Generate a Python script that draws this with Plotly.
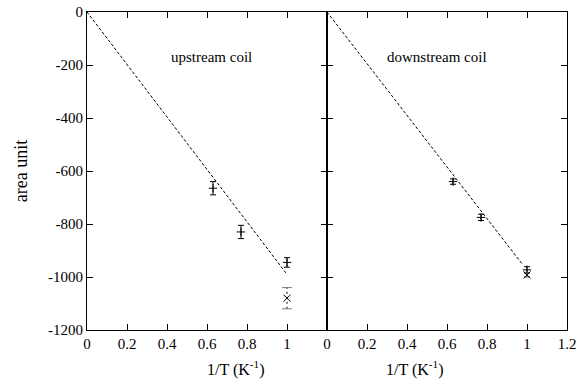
import plotly.graph_objects as go

# Data
up_x = [0.63, 0.77, 1.0]
up_y = [-665, -830, -945]
up_err = [25, 25, 18]
up_cross_x = [1.0]
up_cross_y = [-1080]
up_cross_err = [40]
up_fit_x = [0, 1.0]
up_fit_y = [0, -990]

dn_x = [0.63, 0.77, 1.0]
dn_y = [-640, -775, -973]
dn_err = [10, 12, 12]
dn_cross_x = [1.0]
dn_cross_y = [-992]
dn_cross_err = [8]
dn_fit_x = [0, 0.98]
dn_fit_y = [0, -955]

x_ticks_left = [0, 0.2, 0.4, 0.6, 0.8, 1]
x_ticks_right = [0, 0.2, 0.4, 0.6, 0.8, 1, 1.2]
y_ticks = [0, -200, -400, -600, -800, -1000, -1200]
x_title = "1/T (K<sup>-1</sup>)"

FONT = "Liberation Serif"
fig = go.Figure()

def add_panel(xa, ya, px, py, pe, cx, cy, ce, fx, fy, dotted):
    fig.add_trace(go.Scatter(x=fx, y=fy, mode="lines", xaxis=xa, yaxis=ya,
                             line=dict(color="black", width=1, dash="3px,2px"),
                             showlegend=False, hoverinfo="skip"))
    fig.add_trace(go.Scatter(x=px, y=py, mode="markers", xaxis=xa, yaxis=ya,
                             marker=dict(symbol="cross-thin-open", size=6, color="black",
                                         line=dict(color="black", width=1)),
                             error_y=dict(type="data", array=pe, color="black",
                                          thickness=1, width=3),
                             showlegend=False))
    if dotted:
        for xv, yv, ev in zip(cx, cy, ce):
            fig.add_trace(go.Scatter(x=[xv, xv], y=[yv - ev, yv + ev], mode="lines+markers",
                                     xaxis=xa, yaxis=ya,
                                     line=dict(color="black", width=1, dash="2px,3px"),
                                     marker=dict(symbol="line-ew-open", size=7, color="#777",
                                                 line=dict(color="#777", width=1)),
                                     showlegend=False, hoverinfo="skip"))
        fig.add_trace(go.Scatter(x=cx, y=cy, mode="markers", xaxis=xa, yaxis=ya,
                                 marker=dict(symbol="x-thin-open", size=7, color="black",
                                             line=dict(color="black", width=1)),
                                 showlegend=False))
    else:
        fig.add_trace(go.Scatter(x=cx, y=cy, mode="markers", xaxis=xa, yaxis=ya,
                                 marker=dict(symbol="x-thin-open", size=7, color="black",
                                             line=dict(color="black", width=1)),
                                 error_y=dict(type="data", array=ce, color="#555",
                                              thickness=1, width=3),
                                 showlegend=False))

add_panel("x", "y", up_x, up_y, up_err, up_cross_x, up_cross_y, up_cross_err, up_fit_x, up_fit_y, True)
add_panel("x2", "y2", dn_x, dn_y, dn_err, dn_cross_x, dn_cross_y, dn_cross_err, dn_fit_x, dn_fit_y, False)

axis_common = dict(showgrid=False, zeroline=False, showline=True, linecolor="black",
                   linewidth=1, ticks="inside", ticklen=6, tickcolor="black",
                   mirror="ticks", automargin=False,
                   tickfont=dict(family=FONT, size=15, color="black"))

fig.update_layout(
    width=584, height=386,
    margin=dict(l=87, r=17, t=12, b=56, autoexpand=False),
    paper_bgcolor="white", plot_bgcolor="white",
    font=dict(family=FONT, size=15, color="black"),
    xaxis=dict(domain=[0, 0.5], range=[0, 1.2], tickvals=x_ticks_left,
               ticktext=[str(v) for v in x_ticks_left], anchor="y", **axis_common),
    xaxis2=dict(domain=[0.5, 1], range=[0, 1.2], tickvals=x_ticks_right,
                ticktext=[str(v) for v in x_ticks_right], anchor="y2", **axis_common),
    yaxis=dict(range=[-1200, 0], tickvals=y_ticks, ticktext=[str(v) for v in y_ticks],
               title=dict(text="area unit", font=dict(family=FONT, size=18)),
               anchor="x", **axis_common),
    yaxis2=dict(range=[-1200, 0], tickvals=y_ticks, showticklabels=False,
                anchor="x2", **axis_common),
    annotations=[
        dict(text="upstream coil", x=0.62, y=-170, xref="x", yref="y", showarrow=False,
             font=dict(family=FONT, size=15)),
        dict(text="downstream coil", x=0.55, y=-170, xref="x2", yref="y2", showarrow=False,
             font=dict(family=FONT, size=15)),
        dict(text=x_title, x=0.245, y=-0.12, xref="paper", yref="paper", showarrow=False,
             yanchor="middle", font=dict(family=FONT, size=16)),
        dict(text=x_title, x=0.745, y=-0.12, xref="paper", yref="paper", showarrow=False,
             yanchor="middle", font=dict(family=FONT, size=16)),
    ],
)

fig.write_html("out.html", config={"displayModeBar": False},
               post_script="document.body.style.margin='0';document.body.style.overflow='hidden';")
